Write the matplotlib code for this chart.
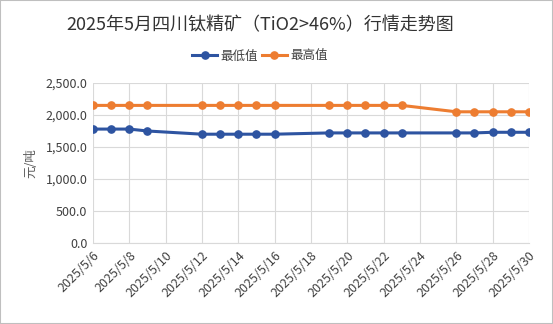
import matplotlib.pyplot as plt
import matplotlib.dates as mdates
from matplotlib.ticker import FuncFormatter
import numpy as np

plt.rcParams['font.family'] = ['Noto Sans CJK SC', 'DejaVu Sans']

dates = ["2025-05-06", "2025-05-07", "2025-05-08", "2025-05-09",
         "2025-05-12", "2025-05-13", "2025-05-14", "2025-05-15", "2025-05-16",
         "2025-05-19", "2025-05-20", "2025-05-21", "2025-05-22", "2025-05-23",
         "2025-05-26", "2025-05-27", "2025-05-28", "2025-05-29", "2025-05-30"]
low = [1780, 1780, 1780, 1750,
       1700, 1700, 1700, 1700, 1700,
       1720, 1720, 1720, 1720, 1720,
       1720, 1720, 1730, 1730, 1730]
high = [2150, 2150, 2150, 2150,
        2150, 2150, 2150, 2150, 2150,
        2150, 2150, 2150, 2150, 2150,
        2050, 2050, 2050, 2050, 2050]

x = np.array(dates, dtype="datetime64[D]")

fig = plt.figure(figsize=(5.53, 3.24), dpi=100)
ax = fig.add_axes([93 / 553, 1 - 243 / 324, (529 - 93) / 553, (243 - 83) / 324])

blue = "#2E54A1"
orange = "#ED7D31"
ax.plot(x, low, color=blue, lw=2.2, marker="o", ms=5.2, label="最低值", zorder=3)
ax.plot(x, high, color=orange, lw=2.2, marker="o", ms=5.2, label="最高值", zorder=3)

ax.set_xlim(x[0], x[-1])
ax.set_ylim(0, 2500)
ax.set_yticks(np.arange(0, 2501, 500))
ax.yaxis.set_major_formatter(FuncFormatter(lambda v, p: f"{v:,.1f}"))
ax.xaxis.set_major_locator(mdates.DayLocator(interval=2))
ax.xaxis.set_major_formatter(FuncFormatter(
    lambda v, p: "{0.year}/{0.month}/{0.day}".format(mdates.num2date(v))))

ax.grid(True, color="#D9D9D9", lw=0.8)
ax.set_axisbelow(True)
for s in ["top", "right", "left"]:
    ax.spines[s].set_visible(False)
ax.spines["bottom"].set_color("#D9D9D9")
ax.tick_params(length=0, labelsize=9, colors="#404040", pad=4)
plt.setp(ax.get_xticklabels(), rotation=45, ha="right", rotation_mode="anchor")

ax.set_ylabel("元/吨", fontsize=9, color="#595959", labelpad=6)

fig.text(0.47, 1 - 25 / 324, "2025年5月四川钛精矿（TiO2>46%）行情走势图",
         ha="center", va="center", fontsize=13, color="#333333")
fig.legend(loc="center", bbox_to_anchor=(0.47, 1 - 56 / 324), ncol=2, frameon=False,
           fontsize=9, handlelength=2.0, columnspacing=0.3, handletextpad=0.25,
           labelcolor="#404040")

fig.patches.append(plt.Rectangle((0, 0), 1, 1, transform=fig.transFigure,
                                 fill=False, edgecolor="#BFBFBF", lw=1.5))

fig.savefig("out.png", dpi=100)
